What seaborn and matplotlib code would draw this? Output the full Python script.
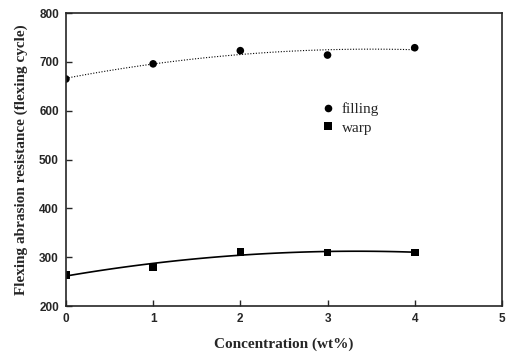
import numpy as np
import pandas as pd
import matplotlib
matplotlib.use("Agg")
import matplotlib.pyplot as plt
import seaborn as sns

# values
concentration = [0, 1, 2, 3, 4]
filling = [665, 696, 723, 714, 729]
warp = [264, 280, 311, 310, 310]

df = pd.DataFrame({
    "Concentration": concentration * 2,
    "Resistance": filling + warp,
    "Direction": ["filling"] * 5 + ["warp"] * 5,
})

sns.set_style("ticks")
plt.rcParams["font.family"] = ["Liberation Serif", "DejaVu Serif"]

fig = plt.figure(figsize=(5.07, 3.53), dpi=100)
ax = fig.add_axes([0.130, 0.133, 0.860, 0.830])

# fitted trend curves
sns.regplot(data=df[df.Direction == "filling"], x="Concentration", y="Resistance",
            order=2, ci=None, scatter=False, ax=ax,
            line_kws=dict(color="black", lw=0.8, ls=(0, (1, 1.5))))
sns.regplot(data=df[df.Direction == "warp"], x="Concentration", y="Resistance",
            order=2, ci=None, scatter=False, ax=ax,
            line_kws=dict(color="black", lw=1.2))

sns.scatterplot(data=df, x="Concentration", y="Resistance", style="Direction",
                markers={"filling": "o", "warp": "s"}, color="black",
                s=30, edgecolor="black", linewidth=0, ax=ax)

ax.set_xlim(0, 5)
ax.set_ylim(200, 800)
ax.set_xticks([0, 1, 2, 3, 4, 5])
ax.set_yticks([200, 300, 400, 500, 600, 700, 800])
ax.tick_params(direction="in", length=4, width=1, labelsize=8.5, pad=5)
for lab in ax.get_xticklabels() + ax.get_yticklabels():
    lab.set_fontfamily("Liberation Sans")
    lab.set_fontweight("bold")
for sp in ax.spines.values():
    sp.set_linewidth(1.2)

ax.set_xlabel("Concentration (wt%)", fontsize=11, fontweight="bold", labelpad=9)
ax.set_ylabel("Flexing abrasion resistance (flexing cycle)", fontsize=11,
              fontweight="bold", labelpad=8)

leg = ax.legend(loc="center left", bbox_to_anchor=(0.535, 0.64), frameon=False,
                fontsize=11, handletextpad=-0.1, labelspacing=0.3, title=None)

fig.savefig("out.png", dpi=100)
